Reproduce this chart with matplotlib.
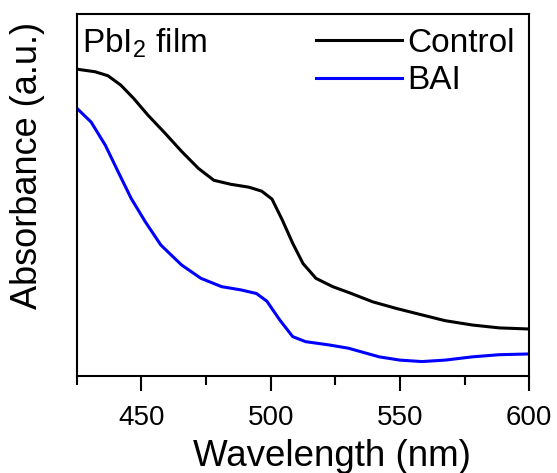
import numpy as np
import matplotlib
matplotlib.use("Agg")
import matplotlib.pyplot as plt
from matplotlib.ticker import MultipleLocator

plt.rcParams['font.family'] = ['Liberation Sans', 'DejaVu Sans']
plt.rcParams['mathtext.default'] = 'regular'

# values (absorbance in arbitrary units)
wl_control = [425, 432, 437, 442, 447, 452.5, 459, 465.5, 472, 478, 484.5, 491.5, 496.5, 500.5,
              504.5, 508.5, 512.5, 517.5, 524, 530.5, 539.5, 548.5, 558.5, 567.5, 578, 588.5, 600]
abs_control = [0.848, 0.841, 0.830, 0.804, 0.767, 0.721, 0.672, 0.621, 0.574, 0.541, 0.530, 0.522,
               0.511, 0.489, 0.431, 0.367, 0.311, 0.270, 0.247, 0.230, 0.205, 0.187, 0.169, 0.153,
               0.141, 0.133, 0.130]

wl_bai = [425, 430.5, 436, 441, 446, 451.5, 457.5, 465.5, 473, 481, 488.5, 494.5, 498.5, 503.5,
          508.5, 513.5, 522.5, 530, 542, 550, 558.5, 567.5, 578, 588.5, 600]
abs_bai = [0.740, 0.702, 0.638, 0.564, 0.491, 0.426, 0.362, 0.307, 0.270, 0.247, 0.238, 0.228,
           0.207, 0.155, 0.109, 0.095, 0.086, 0.077, 0.053, 0.044, 0.040, 0.044, 0.053, 0.059, 0.061]

xticks = [450, 500, 550, 600]

fig = plt.figure(figsize=(5.57, 4.73), dpi=100)
ax = fig.add_axes([0.138, 0.205, 0.812, 0.765])

ax.plot(wl_control, abs_control, color='black', lw=2.2, label='Control', solid_joinstyle='round')
ax.plot(wl_bai, abs_bai, color='#0000ff', lw=2.2, label='BAI', solid_joinstyle='round')

ax.set_xlim(425, 600)
ax.set_ylim(0, 1)
ax.set_xticks(xticks)
ax.xaxis.set_minor_locator(MultipleLocator(25))
ax.set_yticks([])
ax.tick_params(axis='x', which='major', direction='out', length=11, width=1.5, labelsize=20, pad=10)
ax.tick_params(axis='x', which='minor', direction='out', length=6.5, width=1.5)
for s in ax.spines.values():
    s.set_linewidth(1.5)

ax.set_xlabel('Wavelength (nm)', fontsize=26.5)
ax.xaxis.set_label_coords(0.564, -0.175)
ax.set_ylabel('Absorbance (a.u.)', fontsize=26)
ax.yaxis.set_label_coords(-0.071, 0.583)

ax.text(0.012, 0.967, 'PbI$_2$ film', transform=ax.transAxes, fontsize=24, va='top', ha='left')

ax.legend(loc='upper right', bbox_to_anchor=(1.035, 1.046), frameon=False, fontsize=24,
          handlelength=2.6, handletextpad=0.15, labelspacing=0.2)

plt.savefig('out.png', dpi=100)
